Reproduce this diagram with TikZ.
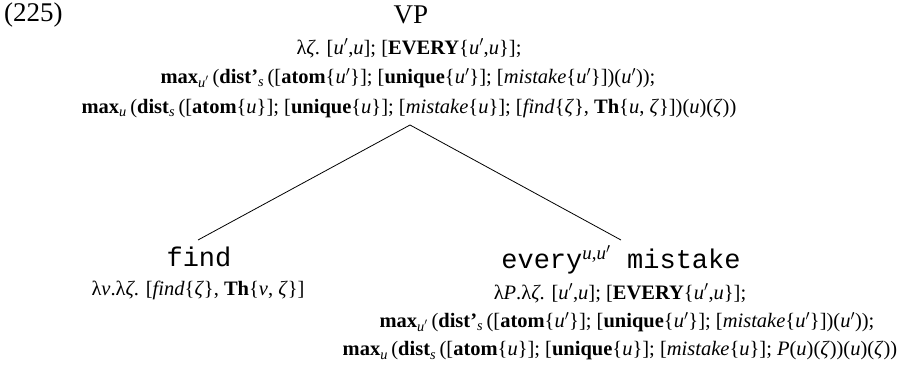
\documentclass[tikz,border=0pt]{standalone}
\usepackage{fontspec}
\setmainfont{Liberation Serif}
\setmonofont{Liberation Mono}
\newcommand{\vu}{\textit{u}}
\newcommand{\vup}{\textit{u}$'$}
\newcommand{\vz}{\textit{ζ}}
\newcommand{\mxx}[1]{\textbf{max}\textsubscript{#1}\,}
\newcommand{\dst}[1]{\textbf{dist#1}\textsubscript{\textit{s}}\,}
\tikzset{
  formula/.style={inner sep=0pt, anchor=center, font=\fontsize{20.5}{24}\selectfont},
  biglabel/.style={inner sep=0pt, anchor=center, font=\fontsize{27}{32}\selectfont},
  treeline/.style={line width=0.8pt}
}
\begin{document}
\begin{tikzpicture}[x=1pt,y=-1pt]
\useasboundingbox (0,0) rectangle (908,367);
\node[biglabel, anchor=west] (num) at (4,15) {(225)};
\node[biglabel] (vp) at (411,15) {VP};
\node[formula] (t1) at (409,48) {λ\vz. [\vup,\vu]; [\textbf{EVERY}\{\vup,\vu\}];};
\node[formula] (t2) at (408,78) {\mxx{\vup}(\dst{’}([\textbf{atom}\{\vup\}]; [\textbf{unique}\{\vup\}]; [\textit{mistake}\{\vup\}])(\vup));};
\node[formula] (t3) at (409,108) {\mxx{\vu}(\dst{}([\textbf{atom}\{\vu\}]; [\textbf{unique}\{\vu\}]; [\textit{mistake}\{\vu\}]; [\textit{find}\{\vz\}, \textbf{Th}\{\vu, \vz\}])(\vu)(\vz))};
\coordinate (apex) at (410,125);
\coordinate (lfoot) at (198,240);
\coordinate (rfoot) at (621,240);
\draw[treeline] (apex) -- (lfoot);
\draw[treeline] (apex) -- (rfoot);
\node[biglabel, font=\fontsize{27}{32}\ttfamily] (find) at (199,257) {find};
\node[formula] (f1) at (198,290) {λ\textit{v}.λ\vz. [\textit{find}\{\vz\}, \textbf{Th}\{\textit{v}, \vz\}]};
\node[biglabel, font=\fontsize{27}{32}\ttfamily] (em) at (621,260) {every\textsuperscript{\rmfamily\vu,\vup} mistake};
\node[formula] (r1) at (620,293) {λ\textit{P}.λ\vz. [\vup,\vu]; [\textbf{EVERY}\{\vup,\vu\}];};
\node[formula] (r2) at (627,322) {\mxx{\vup}(\dst{’}([\textbf{atom}\{\vup\}]; [\textbf{unique}\{\vup\}]; [\textit{mistake}\{\vup\}])(\vup));};
\node[formula] (r3) at (620,351) {\mxx{\vu}(\dst{}([\textbf{atom}\{\vu\}]; [\textbf{unique}\{\vu\}]; [\textit{mistake}\{\vu\}]; \textit{P}(\vu)(\vz))(\vu)(\vz))};
\end{tikzpicture}
\end{document}
